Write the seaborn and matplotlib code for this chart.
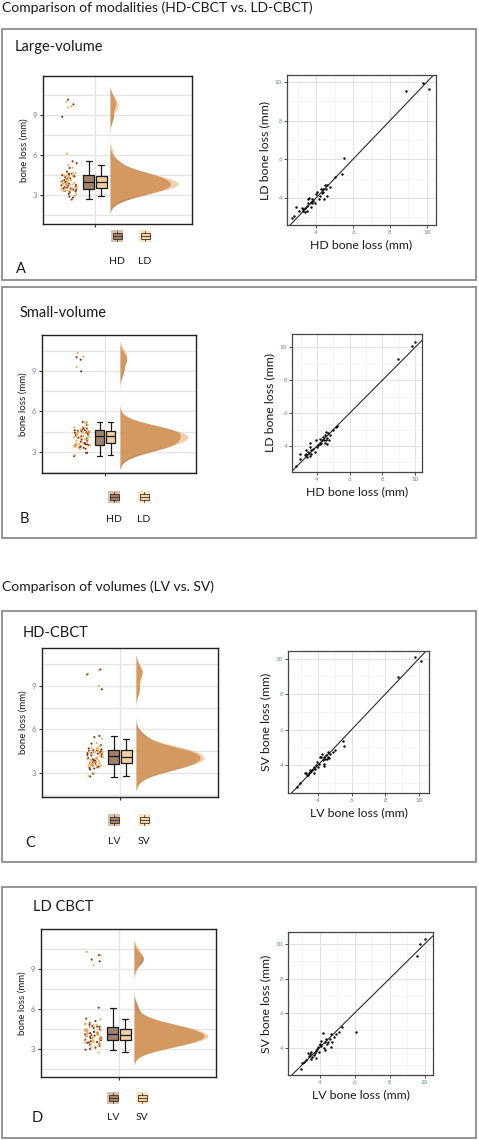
"""
Raincloud + agreement plots for bone loss measured on HD/LD and LV/SV CBCT
"""

import numpy as np
import pandas as pd
import matplotlib
matplotlib.use('Agg')
import matplotlib.pyplot as plt
from matplotlib.patches import Rectangle
from matplotlib.lines import Line2D
from matplotlib.ticker import MultipleLocator, FixedLocator
import seaborn as sns


W, H = 479, 1140

# Panel A: large volume, HD (x) vs LD (y)
A_HD = [8.85, 9.78, 10.13, 5.53, 5.39, 5.03, 4.61, 4.49, 4.36, 4.54,
        4.61, 4.43, 4.22, 4.04, 4.00, 3.64, 3.59, 3.71, 3.77, 3.73,
        3.50, 3.41, 3.32, 3.23, 3.28, 3.50, 2.90, 2.83, 2.68, 4.31,
        4.14, 3.86, 3.57, 3.10, 4.76, 4.40, 3.41, 3.77, 4.25, 3.95]
A_LD = [9.55, 9.97, 9.64, 6.09, 5.24, 5.07, 4.67, 4.67, 4.48, 4.45,
        4.10, 3.97, 4.10, 4.33, 4.20, 4.02, 3.93, 3.81, 3.72, 3.53,
        3.60, 3.48, 3.45, 3.50, 3.34, 3.34, 3.55, 3.09, 2.95, 4.28,
        3.93, 3.83, 3.76, 3.34, 4.59, 4.33, 3.29, 3.93, 4.45, 3.72]

# Panel B: small volume, HD (x) vs LD (y)
B_HD = [10.02, 9.84, 8.98, 5.18, 4.98, 4.67, 4.53, 4.47, 4.37, 4.61,
        4.73, 4.47, 4.61, 4.33, 4.06, 3.92, 4.00, 3.59, 3.55, 3.65,
        3.45, 3.35, 3.55, 3.41, 3.31, 3.24, 2.94, 2.94, 2.69, 3.76,
        4.16, 4.43, 5.22, 4.78, 3.86, 3.51, 4.27, 4.57, 3.65, 4.20]
B_LD = [10.33, 10.06, 9.31, 5.16, 5.00, 4.82, 4.86, 4.65, 4.55, 4.51,
        4.35, 4.18, 4.14, 4.35, 4.04, 4.39, 3.94, 4.18, 3.94, 3.73,
        3.63, 3.53, 3.37, 3.33, 3.73, 3.47, 3.49, 3.22, 2.78, 3.84,
        4.10, 4.39, 5.20, 4.65, 3.63, 3.57, 4.18, 4.39, 3.49, 4.45]

# Panel C: HD-CBCT, LV (x) vs SV (y)
C_LV = [9.78, 10.12, 8.76, 5.47, 5.55, 4.92, 4.57, 4.49, 4.24, 4.20,
        4.37, 4.53, 4.63, 4.37, 4.33, 4.04, 3.94, 3.90, 3.71, 3.65,
        3.78, 3.55, 3.45, 3.35, 3.25, 3.51, 2.96, 2.76, 4.14, 4.43,
        4.69, 3.75, 3.59, 3.31, 5.02, 3.84, 4.29, 4.57, 3.39, 4.00]
C_SV = [10.07, 9.85, 8.99, 5.35, 5.07, 4.75, 4.75, 4.56, 4.62, 4.47,
        4.47, 4.37, 4.43, 4.06, 3.94, 4.09, 4.15, 4.00, 3.81, 3.72,
        3.53, 3.59, 3.53, 3.44, 3.53, 3.72, 2.97, 2.79, 4.47, 4.34,
        4.65, 3.91, 3.66, 3.57, 4.84, 3.76, 4.28, 4.47, 3.46, 3.91]

# Panel D: LD-CBCT, LV (x) vs SV (y)
D_LV = [10.04, 9.71, 9.58, 6.10, 5.28, 5.09, 4.95, 4.67, 4.57, 4.72,
        4.48, 4.42, 4.29, 4.19, 4.10, 4.23, 4.29, 4.67, 4.00, 3.90,
        3.85, 3.96, 3.71, 3.52, 3.58, 3.81, 3.39, 3.33, 3.24, 3.10,
        3.01, 2.95, 3.49, 3.66, 4.04, 4.38, 4.82, 3.77, 3.47, 4.10]
D_SV = [10.29, 10.02, 9.28, 4.91, 5.22, 4.93, 4.79, 4.79, 4.48, 4.35,
        4.35, 4.21, 4.35, 4.83, 4.39, 3.96, 3.86, 4.06, 4.15, 4.06,
        3.90, 3.77, 3.67, 3.77, 3.48, 3.38, 3.52, 3.71, 3.28, 3.19,
        3.13, 2.74, 3.34, 3.57, 4.21, 4.48, 4.64, 3.83, 3.63, 4.10]

BOX_COLORS = ['#A98063', '#FBD29A']
POINT_COLORS = ['#7A3412', '#F8A54E']
DENS_COLORS = ['#BF8550', '#E4A262']
LEGEND_BG = ['#D8BFA8', '#FCE6C4']
TICK_BLUE = '#6A84A8'

sns.set_style('white')
plt.rcParams['font.family'] = ['Lato', 'DejaVu Sans']

np.random.seed(7)
fig = plt.figure(figsize=(W / 100, H / 100), dpi=100)


def px_rect(x0, y0, x1, y1):
    return [x0 / W, 1 - y1 / H, (x1 - x0) / W, (y1 - y0) / H]


def fig_text(x, y, s, size, **kw):
    fig.text(x / W, 1 - y / H, s, fontsize=size, va='center', color='#1a1a1a', **kw)


def frame_box(x0, y0, x1, y1):
    fig.add_artist(Rectangle((x0 / W, 1 - y1 / H), (x1 - x0) / W, (y1 - y0) / H,
                             transform=fig.transFigure, fill=False,
                             edgecolor='#8C8C8C', linewidth=1.3))


def legend_key(cx, cy, color, bg):
    # little box glyph drawn under the raincloud, like ggplot's legend key
    s = 6
    fig.add_artist(Rectangle(((cx - s) / W, 1 - (cy + s) / H), 2 * s / W, 2 * s / H,
                             transform=fig.transFigure, facecolor=bg, edgecolor='none'))
    fig.add_artist(Rectangle(((cx - 4.5) / W, 1 - (cy + 3) / H), 9 / W, 6 / H,
                             transform=fig.transFigure, facecolor=color,
                             edgecolor='#333333', linewidth=0.6))
    for ya, yb in ((cy - 5, cy - 3), (cy + 3, cy + 5)):
        fig.add_artist(Line2D([cx / W, cx / W], [1 - ya / H, 1 - yb / H],
                              transform=fig.transFigure, color='#333333', linewidth=0.6))
    fig.add_artist(Line2D([(cx - 4.5) / W, (cx + 4.5) / W], [1 - cy / H, 1 - cy / H],
                          transform=fig.transFigure, color='#333333', linewidth=0.6))


def raincloud(rect, first, second, names, ylim, tick_px, rain_px, rain_half, box_w, violin):
    left, top, right, bottom = rect
    ax = fig.add_axes(px_rect(*rect))
    df = pd.DataFrame({
        'group': [names[0]] * len(first) + [names[1]] * len(second),
        'loss': np.concatenate([first, second]),
    })
    df['pos'] = 0.0
    df['rain'] = float(rain_px - tick_px)

    sns.stripplot(data=df, x='rain', y='loss', hue='group', native_scale=True,
                  jitter=rain_half, dodge=False, size=1.5, linewidth=0,
                  palette=dict(zip(names, POINT_COLORS)), legend=False, ax=ax)
    sns.boxplot(data=df, x='pos', y='loss', hue='group', native_scale=True,
                width=box_w, gap=0.1, dodge=True, showfliers=False,
                palette=dict(zip(names, BOX_COLORS)), linecolor='#1a1a1a',
                linewidth=0.9, legend=False, ax=ax)

    ax.set_xlim(left - tick_px, right - tick_px)
    ax.set_ylim(*ylim)
    ax.set_xticks([0])
    ax.set_xticklabels([''])
    ax.yaxis.set_major_locator(FixedLocator([3, 6, 9]))
    ax.yaxis.set_minor_locator(MultipleLocator(1.5))
    ax.grid(axis='y', which='both', color='#E4E4E4', linewidth=0.9)
    ax.grid(axis='x', which='major', color='#E4E4E4', linewidth=0.9)
    ax.set_axisbelow(True)
    ax.tick_params(axis='both', which='major', length=2.5, width=0.8, color='#333333',
                   labelsize=5.5, labelcolor=TICK_BLUE, pad=1.5, left=True, bottom=True)
    ax.tick_params(which='minor', length=0)
    ax.set_xlabel('')
    ax.set_ylabel('bone loss (mm)', fontsize=7, labelpad=3, color='#1a1a1a')
    for sp in ax.spines.values():
        sp.set_color('#222222')
        sp.set_linewidth(1.0)

    # half violins (densities) on an overlay sharing the y scale
    axd = fig.add_axes(px_rect(violin[0], top, violin[1], bottom), sharey=ax)
    for vals, col, alpha in ((first, DENS_COLORS[0], 0.9), (second, DENS_COLORS[1], 0.5)):
        sns.kdeplot(y=vals, fill=True, color=col, alpha=alpha, linewidth=0,
                    bw_adjust=0.55, cut=2.3, ax=axd)
    axd.set_xlim(0, axd.dataLim.x1)
    axd.axis('off')
    axd.patch.set_alpha(0)
    ax.set_ylim(*ylim)
    return ax


def agreement(rect, xs, ys, xlabel, ylabel, xlim, ylim):
    ax = fig.add_axes(px_rect(*rect))
    sns.scatterplot(x=xs, y=ys, color='black', s=3, linewidth=0, ax=ax, zorder=3)
    ax.axline((4, 4), slope=1, color='#2a2a2a', linewidth=0.8, zorder=2)
    ax.set_xlim(*xlim)
    ax.set_ylim(*ylim)
    for axis in (ax.xaxis, ax.yaxis):
        axis.set_major_locator(MultipleLocator(2))
        axis.set_minor_locator(MultipleLocator(1))
    ax.grid(which='major', color='#E2E2E2', linewidth=0.7)
    ax.grid(which='minor', color='#EFEFEF', linewidth=0.5)
    ax.set_axisbelow(True)
    ax.tick_params(which='major', length=2, width=0.6, color='#333333',
                   labelsize=4.5, labelcolor=TICK_BLUE, pad=1.5, left=True, bottom=True)
    ax.tick_params(which='minor', length=0)
    ax.set_xlabel(xlabel, fontsize=8.8, labelpad=3, color='#1a1a1a')
    ax.set_ylabel(ylabel, fontsize=8.8, labelpad=3, color='#1a1a1a')
    for sp in ax.spines.values():
        sp.set_color('#444444')
        sp.set_linewidth(0.9)
    return ax


# section titles
fig_text(2, 8, 'Comparison of modalities (HD-CBCT vs. LD-CBCT)', 10)
fig_text(2, 587, 'Comparison of volumes (LV vs. SV)', 10)

panels = [
    dict(box=(2, 29, 476, 280), title='Large-volume', title_xy=(15, 47), letter='A',
         letter_xy=(16, 269), first=A_HD, second=A_LD, names=('HD', 'LD'),
         left=(43, 76, 192, 224), ylim=(0.85, 11.9), tick=95, rain=69, half=8.0,
         box_w=25, violin=(110, 178), key_y=236, key_x=(117, 145), lab_y=262,
         right=(287, 75, 436, 225), xlim=(2.43, 10.49), rylim=(2.6, 10.36),
         xlabel='HD bone loss (mm)', ylabel='LD bone loss (mm)'),
    dict(box=(2, 287, 476, 538), title='Small-volume', title_xy=(20, 313), letter='B',
         letter_xy=(20, 519), first=B_HD, second=B_LD, names=('HD', 'LD'),
         left=(42, 335, 196, 473), ylim=(1.44, 11.67), tick=105, rain=82, half=8.0,
         box_w=22, violin=(120, 188), key_y=497, key_x=(114, 144), lab_y=519,
         right=(292, 334, 422, 472), xlim=(2.47, 10.43), rylim=(2.42, 10.82),
         xlabel='HD bone loss (mm)', ylabel='LD bone loss (mm)'),
    dict(box=(2, 611, 476, 862), title='HD-CBCT', title_xy=(23, 633), letter='C',
         letter_xy=(25, 843), first=C_LV, second=C_SV, names=('LV', 'SV'),
         left=(42, 648, 218, 797), ylim=(1.35, 11.6), tick=120, rain=95, half=8.0,
         box_w=25, violin=(136, 204), key_y=820, key_x=(114, 144), lab_y=842,
         right=(288, 651, 429, 793), xlim=(2.22, 10.6), rylim=(2.43, 10.43),
         xlabel='LV bone loss (mm)', ylabel='SV bone loss (mm)'),
    dict(box=(2, 887, 476, 1138), title='LD CBCT', title_xy=(33, 907), letter='D',
         letter_xy=(32, 1118), first=D_LV, second=D_SV, names=('LV', 'SV'),
         left=(41, 929, 216, 1077), ylim=(0.9, 12.0), tick=119, rain=93, half=8.5,
         box_w=25, violin=(134, 208), key_y=1098, key_x=(113, 142), lab_y=1118,
         right=(288, 932, 433, 1075), xlim=(2.19, 10.48), rylim=(2.41, 10.7),
         xlabel='LV bone loss (mm)', ylabel='SV bone loss (mm)'),
]

for p in panels:
    frame_box(*p['box'])
    fig_text(*p['title_xy'], p['title'], 10.5)
    fig_text(*p['letter_xy'], p['letter'], 10.5)
    raincloud(p['left'], p['first'], p['second'], p['names'], p['ylim'], p['tick'],
              p['rain'], p['half'], p['box_w'], p['violin'])
    for kx, name, col, bg in zip(p['key_x'], p['names'], BOX_COLORS, LEGEND_BG):
        legend_key(kx, p['key_y'], col, bg)
        fig.text(kx / W, 1 - p['lab_y'] / H, name, fontsize=7.5, ha='center', va='center',
                 color='#1a1a1a')
    agreement(p['right'], p['first'], p['second'], p['xlabel'], p['ylabel'],
              p['xlim'], p['rylim'])

fig.savefig('out.png', dpi=100)
print('saved out.png')
